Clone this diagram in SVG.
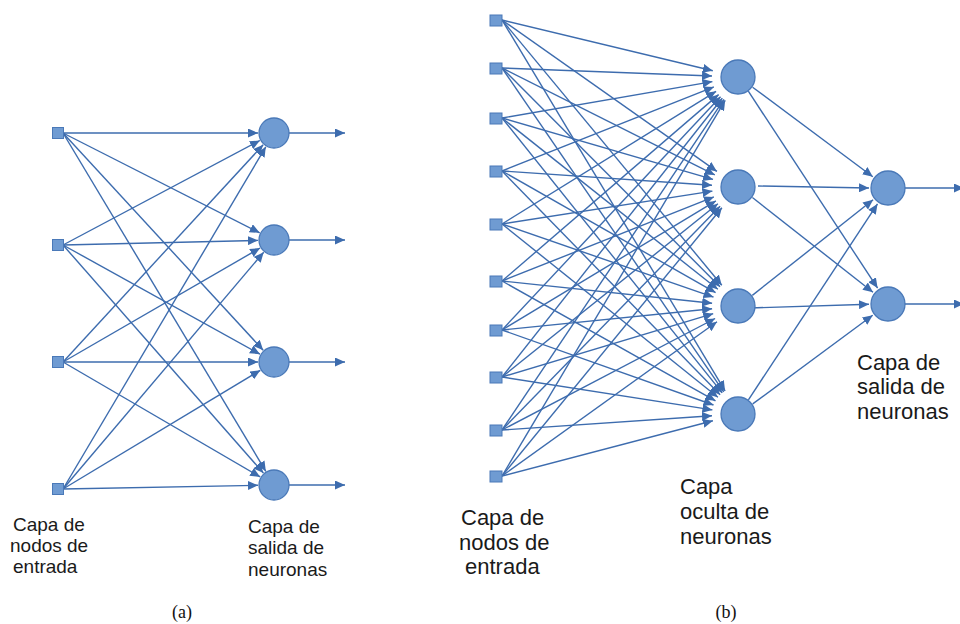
<svg xmlns="http://www.w3.org/2000/svg" width="960" height="624" viewBox="0 0 960 624">
<style>
.c{stroke:#3d6cae;stroke-width:1.4;fill:none;marker-end:url(#ah)}
.n{fill:#6f9bd2;stroke:#4a79b8;stroke-width:1.3}
.s{fill:#6f9bd2;stroke:#4a79b8;stroke-width:1}
.t{font-family:"Liberation Sans",Arial,sans-serif;fill:#1a1a1a}
.ta{font-size:19px}
.tb{font-size:22px}
.cap{font-family:"Liberation Serif","DejaVu Serif",serif;font-size:18px;fill:#111;text-anchor:middle}
</style>
<defs>
<marker id="ah" markerUnits="userSpaceOnUse" markerWidth="11" markerHeight="9" refX="10" refY="4.5" orient="auto">
<path d="M0,0 L10,4.5 L0,9 z" fill="#3d6cae"/>
</marker>
</defs>
<rect width="960" height="624" fill="#fff"/>

<g id="connectors-a">
<line class="c" x1="63" y1="133" x2="258" y2="133"/>
<line class="c" x1="63" y1="133" x2="259.7" y2="232.8"/>
<line class="c" x1="63" y1="133" x2="263.2" y2="350.2"/>
<line class="c" x1="63" y1="133" x2="265.8" y2="471.3"/>
<line class="c" x1="63" y1="245" x2="259.9" y2="140.5"/>
<line class="c" x1="63" y1="245" x2="258" y2="240.4"/>
<line class="c" x1="63" y1="245" x2="260" y2="354.2"/>
<line class="c" x1="63" y1="245" x2="263.4" y2="473"/>
<line class="c" x1="63" y1="362" x2="263.2" y2="144.8"/>
<line class="c" x1="63" y1="362" x2="260.1" y2="248"/>
<line class="c" x1="63" y1="362" x2="258" y2="362"/>
<line class="c" x1="63" y1="362" x2="260.2" y2="476.9"/>
<line class="c" x1="63" y1="489" x2="265.8" y2="146.8"/>
<line class="c" x1="63" y1="489" x2="263.7" y2="252.2"/>
<line class="c" x1="63" y1="489" x2="260.3" y2="370.3"/>
<line class="c" x1="63" y1="489" x2="258" y2="485.3"/>
<line class="c" x1="289" y1="133" x2="345" y2="133"/>
<line class="c" x1="289" y1="240" x2="345" y2="240"/>
<line class="c" x1="289" y1="362" x2="345" y2="362"/>
<line class="c" x1="289" y1="485" x2="345" y2="485"/>
</g>

<g id="a-in1"><rect class="s" x="52.5" y="127.5" width="11" height="11"/></g>
<g id="a-in2"><rect class="s" x="52.5" y="239.5" width="11" height="11"/></g>
<g id="a-in3"><rect class="s" x="52.5" y="356.5" width="11" height="11"/></g>
<g id="a-in4"><rect class="s" x="52.5" y="483.5" width="11" height="11"/></g>
<g id="a-out1"><circle class="n" cx="274" cy="133" r="15"/></g>
<g id="a-out2"><circle class="n" cx="274" cy="240" r="15"/></g>
<g id="a-out3"><circle class="n" cx="274" cy="362" r="15"/></g>
<g id="a-out4"><circle class="n" cx="274" cy="485" r="15"/></g>

<g id="a-label-in" class="t ta">
<text x="13" y="531">Capa de</text>
<text x="10" y="552">nodos de</text>
<text x="13" y="573">entrada</text>
</g>
<g id="a-label-out" class="t ta">
<text x="248" y="533">Capa de</text>
<text x="248" y="554">salida de</text>
<text x="248" y="576">neuronas</text>
</g>
<text class="cap" x="182" y="618">(a)</text>

<g id="connectors-b">
<line class="c" x1="502" y1="20" x2="712.8" y2="70.7"/>
<line class="c" x1="502" y1="68" x2="712" y2="76"/>
<line class="c" x1="502" y1="118" x2="712.4" y2="81.6"/>
<line class="c" x1="502" y1="171" x2="713.9" y2="86.9"/>
<line class="c" x1="502" y1="224" x2="716.1" y2="91.3"/>
<line class="c" x1="502" y1="281" x2="718.6" y2="94.6"/>
<line class="c" x1="502" y1="330" x2="720.5" y2="96.7"/>
<line class="c" x1="502" y1="377" x2="722.3" y2="98.2"/>
<line class="c" x1="502" y1="430" x2="724" y2="99.4"/>
<line class="c" x1="502" y1="476" x2="725.2" y2="100.3"/>

<line class="c" x1="502" y1="20" x2="716.9" y2="171.4"/>
<line class="c" x1="502" y1="68" x2="714.8" y2="174.9"/>
<line class="c" x1="502" y1="118" x2="713" y2="179.4"/>
<line class="c" x1="502" y1="171" x2="712" y2="185.2"/>
<line class="c" x1="502" y1="224" x2="712.4" y2="191.1"/>
<line class="c" x1="502" y1="281" x2="713.9" y2="196.9"/>
<line class="c" x1="502" y1="330" x2="715.9" y2="200.9"/>
<line class="c" x1="502" y1="377" x2="717.9" y2="203.8"/>
<line class="c" x1="502" y1="430" x2="720.1" y2="206.3"/>
<line class="c" x1="502" y1="476" x2="721.9" y2="207.8"/>

<line class="c" x1="502" y1="20" x2="721.8" y2="285.2"/>
<line class="c" x1="502" y1="68" x2="720" y2="286.8"/>
<line class="c" x1="502" y1="118" x2="717.8" y2="289.3"/>
<line class="c" x1="502" y1="171" x2="715.6" y2="292.6"/>
<line class="c" x1="502" y1="224" x2="713.5" y2="297.1"/>
<line class="c" x1="502" y1="281" x2="712.1" y2="303.2"/>
<line class="c" x1="502" y1="330" x2="712.1" y2="308.7"/>
<line class="c" x1="502" y1="377" x2="713.2" y2="313.7"/>
<line class="c" x1="502" y1="430" x2="715.1" y2="318.5"/>
<line class="c" x1="502" y1="476" x2="717" y2="321.7"/>

<line class="c" x1="502" y1="20" x2="725.1" y2="390.9"/>
<line class="c" x1="502" y1="68" x2="723.7" y2="391.8"/>
<line class="c" x1="502" y1="118" x2="722.2" y2="392.9"/>
<line class="c" x1="502" y1="171" x2="720.1" y2="394.7"/>
<line class="c" x1="502" y1="224" x2="717.9" y2="397.2"/>
<line class="c" x1="502" y1="281" x2="715.5" y2="400.8"/>
<line class="c" x1="502" y1="330" x2="713.5" y2="405"/>
<line class="c" x1="502" y1="377" x2="712.4" y2="409.9"/>
<line class="c" x1="502" y1="430" x2="712" y2="415.8"/>
<line class="c" x1="502" y1="476" x2="712.9" y2="420.8"/>

<line class="c" x1="752.6" y1="87.2" x2="872.8" y2="176.7"/>
<line class="c" x1="748.3" y1="91.2" x2="877.6" y2="288.1"/>
<line class="c" x1="758" y1="186" x2="869" y2="188"/>
<line class="c" x1="752.4" y1="197.5" x2="873" y2="292.3"/>
<line class="c" x1="752.3" y1="295.4" x2="873.1" y2="199.8"/>
<line class="c" x1="750" y1="308" x2="869" y2="304.3"/>
<line class="c" x1="748.4" y1="399.8" x2="877.5" y2="203.9"/>
<line class="c" x1="752.7" y1="403.9" x2="872.7" y2="315.3"/>

<line class="c" x1="905" y1="188" x2="964" y2="188"/>
<line class="c" x1="905" y1="304" x2="964" y2="304"/>
</g>

<g id="b-in1"><rect class="s" x="490" y="15" width="12" height="11"/></g>
<g id="b-in2"><rect class="s" x="490" y="63" width="12" height="11"/></g>
<g id="b-in3"><rect class="s" x="490" y="113" width="12" height="11"/></g>
<g id="b-in4"><rect class="s" x="490" y="166" width="12" height="11"/></g>
<g id="b-in5"><rect class="s" x="490" y="219" width="12" height="11"/></g>
<g id="b-in6"><rect class="s" x="490" y="276" width="12" height="11"/></g>
<g id="b-in7"><rect class="s" x="490" y="325" width="12" height="11"/></g>
<g id="b-in8"><rect class="s" x="490" y="372" width="12" height="11"/></g>
<g id="b-in9"><rect class="s" x="490" y="425" width="12" height="11"/></g>
<g id="b-in10"><rect class="s" x="490" y="471" width="12" height="11"/></g>

<g id="b-hid1"><circle class="n" cx="738" cy="77" r="17"/></g>
<g id="b-hid2"><circle class="n" cx="738" cy="187" r="17"/></g>
<g id="b-hid3"><circle class="n" cx="738" cy="306" r="17"/></g>
<g id="b-hid4"><circle class="n" cx="738" cy="414" r="17"/></g>
<g id="b-out1"><circle class="n" cx="888" cy="188" r="17"/></g>
<g id="b-out2"><circle class="n" cx="888" cy="304" r="17"/></g>

<g id="b-label-in" class="t tb">
<text x="461" y="525">Capa de</text>
<text x="459" y="550">nodos de</text>
<text x="465" y="574">entrada</text>
</g>
<g id="b-label-hid" class="t tb">
<text x="680" y="494">Capa</text>
<text x="680" y="519">oculta de</text>
<text x="680" y="544">neuronas</text>
</g>
<g id="b-label-out" class="t tb">
<text x="857" y="370">Capa de</text>
<text x="857" y="394">salida de</text>
<text x="857" y="419">neuronas</text>
</g>
<text class="cap" x="726" y="618">(b)</text>
</svg>
